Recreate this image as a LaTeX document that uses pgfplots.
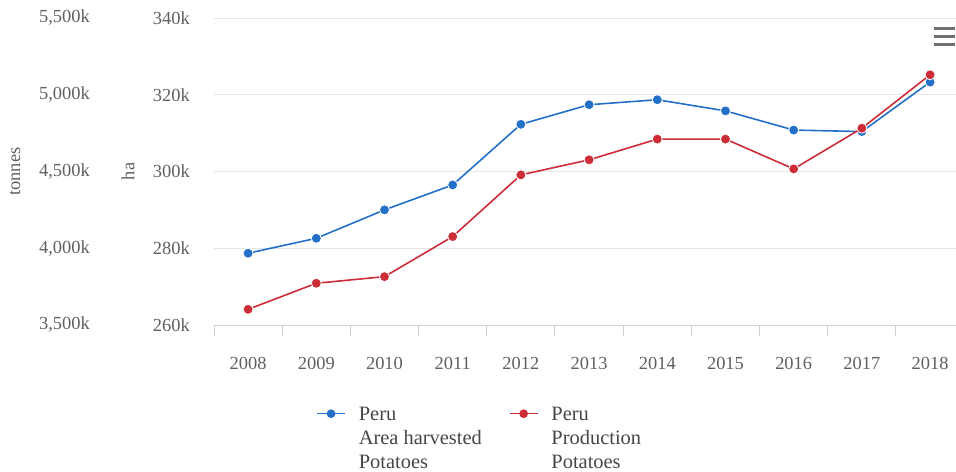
\documentclass[border=0pt]{standalone}
\usepackage{fontspec}
\setmainfont{Liberation Serif}
\usepackage{pgfplots}
\pgfplotsset{compat=1.18}

\definecolor{areablue}{RGB}{36,112,200}
\definecolor{prodred}{RGB}{205,45,55}
\definecolor{gridgray}{RGB}{230,230,230}
\definecolor{axisgray}{RGB}{208,208,208}
\definecolor{labelgray}{RGB}{96,96,96}
\definecolor{legendgray}{RGB}{70,70,70}

\pgfplotsset{
  peru base/.style={
    at={(214bp,147bp)}, anchor=south west,
    scale only axis, width=742bp, height=307bp,
    xmin=-0.5, xmax=10.38,
    major tick length=0pt,
    y axis line style={draw=none},
    every tick label/.append style={font=\fontsize{18.5}{22}\selectfont, text=labelgray},
    label style={font=\fontsize{18.5}{22}\selectfont, text=labelgray},
  },
  series mark/.style={mark=*, mark size=5bp, mark options={draw=white, line width=0.8bp}},
}

\begin{document}
\begin{tikzpicture}
\path[use as bounding box] (0,0) rectangle (956bp,472bp);

% Area harvested (ha), inner left axis
\begin{axis}[
  peru base,
  ymin=260, ymax=340,
  ytick={260,280,300,320,340},
  yticklabels={260k,280k,300k,320k,340k},
  yticklabel style={anchor=east, inner sep=0pt, xshift=-24bp},
  ylabel={ha},
  ylabel style={at={(axis description cs:-0.1159,0.5)}, anchor=center},
  xtick={0,1,2,3,4,5,6,7,8,9,10},
  xticklabels={2008,2009,2010,2011,2012,2013,2014,2015,2016,2017,2018},
  xticklabel style={anchor=base, inner sep=0pt, yshift=-44bp},
  minor xtick={-0.5,0.5,1.5,2.5,3.5,4.5,5.5,6.5,7.5,8.5,9.5},
  tick align=outside,
  minor tick length=11bp,
  minor tick style={axisgray, line width=1bp},
  axis x line*=bottom, axis y line*=left,
  x axis line style={axisgray, line width=1bp},
  ymajorgrids,
  major grid style={gridgray, line width=1bp},
  clip=false,
  legend columns=2,
  legend cell align=left,
  legend style={draw=none, fill=none,
    at={(axis description cs:0.1335,-0.253)}, anchor=north west,
    font=\fontsize{20.5}{24}\selectfont, text=legendgray,
    cells={align=left},
    /tikz/every odd column/.append style={column sep=11bp},
    /tikz/every even column/.append style={column sep=25bp}},
  legend image code/.code={
    \draw[yshift=24.5bp, mark repeat=2, mark phase=2, #1, mark size=3.5bp, mark options={draw=none}]
      plot coordinates {(0bp,0bp) (14bp,0bp) (28bp,0bp)};},
]
\addplot[areablue, line width=1.6bp, series mark] coordinates {
  (0,278.7) (1,282.6) (2,290.0) (3,296.5) (4,312.3) (5,317.4)
  (6,318.7) (7,315.8) (8,310.8) (9,310.4) (10,323.3)
};
\addlegendentry{Peru\\Area harvested\\Potatoes}
\addlegendimage{prodred, line width=1.6bp, series mark}
\addlegendentry{Peru\\Production\\Potatoes}
\end{axis}

% Production (tonnes), outer left axis
\begin{axis}[
  peru base,
  ymin=3500, ymax=5500,
  ytick={3500,4000,4500,5000,5500},
  yticklabels={{3,500k},{4,000k},{4,500k},{5,000k},{5,500k}},
  yticklabel style={anchor=east, inner sep=0pt, xshift=-124bp},
  ylabel={tonnes},
  ylabel style={at={(axis description cs:-0.268,0.5)}, anchor=center},
  hide x axis,
  axis y line*=left,
  clip=false,
]
\addplot[prodred, line width=1.6bp, series mark] coordinates {
  (0,3602) (1,3772) (2,3815) (3,4076) (4,4478) (5,4576)
  (6,4711) (7,4711) (8,4517) (9,4782) (10,5130)
};
\end{axis}

% export menu icon
\fill[labelgray!90] (934bp,441.5bp) rectangle (955bp,444.5bp);
\fill[labelgray!90] (934bp,433.5bp) rectangle (955bp,436.5bp);
\fill[labelgray!90] (934bp,425.5bp) rectangle (955bp,428.5bp);
\end{tikzpicture}
\end{document}
